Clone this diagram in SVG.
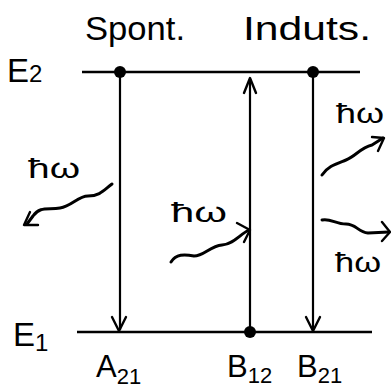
<svg xmlns="http://www.w3.org/2000/svg" width="391" height="388" viewBox="0 0 391 388">
<style>
.t{font-family:"Liberation Sans","DejaVu Sans",sans-serif;fill:#000}
.hw{font-family:"Liberation Sans","DejaVu Sans",sans-serif;fill:#000;font-size:28px}
.lvl{stroke:#000;stroke-width:2.6;fill:none}
.tr{stroke:#000;stroke-width:2.2;fill:none}
.wv{stroke:#000;stroke-width:3;fill:none;stroke-linecap:round;stroke-linejoin:round}
.ah{stroke:#000;stroke-width:2.4;fill:none;stroke-linecap:round;stroke-linejoin:round}
</style>
<rect width="391" height="388" fill="#fff"/>
<g id="header">
<text class="t" x="85" y="40" font-size="34" textLength="100" lengthAdjust="spacingAndGlyphs">Spont.</text>
<text class="t" x="243" y="40" font-size="34" textLength="128" lengthAdjust="spacingAndGlyphs">Induts.</text>
</g>
<g id="E2">
<line class="lvl" x1="82" y1="72" x2="360" y2="72"/>
<text class="t" x="7" y="82" font-size="33">E<tspan font-size="24">2</tspan></text>
</g>
<g id="E1">
<line class="lvl" x1="77" y1="332" x2="372" y2="332"/>
<text class="t" x="13" y="346" font-size="33">E<tspan font-size="24" dy="5">1</tspan></text>
</g>
<g id="connectors">
<g id="A21">
<circle cx="120" cy="72" r="6"/>
<line class="tr" x1="120" y1="72" x2="120" y2="330"/>
<polyline class="ah" points="112,317 119,331 126,317"/>
<text class="t" x="96" y="377" font-size="31">A<tspan font-size="22" dy="7">21</tspan></text>
</g>
<g id="B12">
<circle cx="250" cy="332" r="6"/>
<line class="tr" x1="250" y1="332" x2="250" y2="79"/>
<polyline class="ah" points="244,93 250,78 256,93"/>
<text class="t" x="227" y="377" font-size="31">B<tspan font-size="22" dy="6">12</tspan></text>
</g>
<g id="B21">
<circle cx="313" cy="72" r="6"/>
<line class="tr" x1="313" y1="72" x2="313" y2="330"/>
<polyline class="ah" points="306,317 313,331 320,317"/>
<text class="t" x="297" y="377" font-size="31">B<tspan font-size="22" dy="6">21</tspan></text>
</g>
</g>
<g id="photon-spont">
<text class="hw" x="28" y="178" textLength="52" lengthAdjust="spacingAndGlyphs">ħω</text>
<path class="wv" d="M112,184 C104,190 100,196 88,196 C78,196 72,206 60,208 C48,210 40,206 33,216 L27,224"/>
<polyline class="ah" points="30,212 24,225 38,225"/>
</g>
<g id="photon-abs">
<text class="hw" x="171" y="222" textLength="56" lengthAdjust="spacingAndGlyphs">ħω</text>
<path class="wv" d="M171,262 C176,254 184,254 194,256 C204,256 210,246 222,245 C234,244 240,234 249,230"/>
<polyline class="ah" points="237,223 250,230 244,242"/>
</g>
<g id="photon-stim">
<text class="hw" x="336" y="123" textLength="48" lengthAdjust="spacingAndGlyphs">ħω</text>
<path class="wv" d="M322,175 C328,166 336,164 346,160 C356,156 360,148 372,145 L383,138"/>
<polyline class="ah" points="372,137 384,138 378,151"/>
<text class="hw" x="335" y="272" textLength="46" lengthAdjust="spacingAndGlyphs">ħω</text>
<path class="wv" d="M322,220 C330,218 336,224 346,224 C356,224 358,232 368,233 L389,232"/>
<polyline class="ah" points="382,222 390,232 382,241"/>
</g>
</svg>
